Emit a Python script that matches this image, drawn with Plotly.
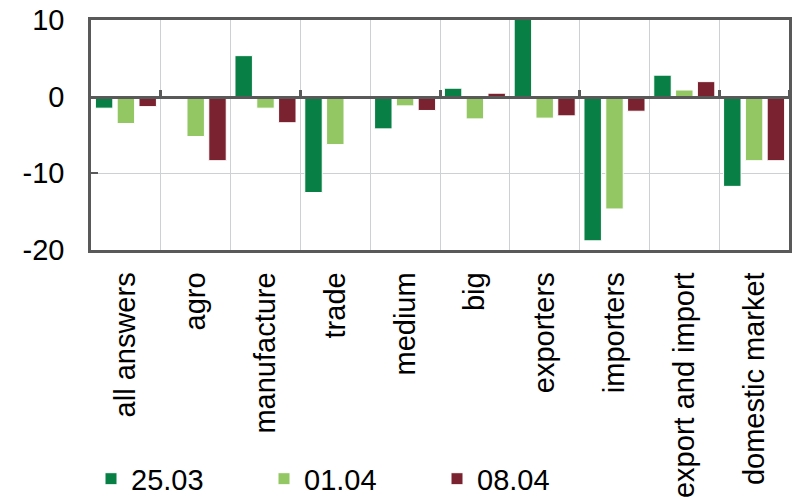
import plotly.graph_objects as go

categories = ["all answers", "agro", "manufacture", "trade", "medium", "big",
              "exporters", "importers", "export and import", "domestic market"]
s_2503 = [-1.5, 0.0, 5.35, -12.5, -4.2, 1.1, 10.5, -18.8, 2.8, -11.7]
s_0104 = [-3.5, -5.2, -1.5, -6.25, -1.2, -2.9, -2.8, -14.65, 0.87, -8.35]
s_0804 = [-1.3, -8.35, -3.4, 0.0, -1.8, 0.45, -2.5, -1.9, 1.96, -8.35]
series_names = ["25.03", "01.04", "08.04"]
colors = ["#077f45", "#92c763", "#7b2230"]
y_ticks = [-20, -10, 0, 10]
y_tick_text = ["-20", "-10", "0", "10"]

FONT = "Liberation Sans, Arial, sans-serif"
AX = "#595959"
GRID = "#cdd1d4"
FS = 29

fig = go.Figure()
for name, vals, col in zip(series_names, [s_2503, s_0104, s_0804], colors):
    fig.add_trace(go.Bar(x=categories, y=vals, name=name,
                         marker=dict(color=col, line=dict(color="white", width=1))))

# helper axis drawn along y=0 with tick marks at category boundaries
n = len(categories)
boundary_ticks = [i + 0.5 for i in range(0, n - 1, 2)] + [n - 0.5]
fig.add_trace(go.Scatter(x=[-0.5, n - 0.5], y=[0, 0], xaxis="x2", mode="lines",
                         line=dict(width=0, color="rgba(0,0,0,0)"),
                         showlegend=False, hoverinfo="skip"))

ymin, ymax = -20, 10
fig.update_layout(
    width=807, height=497,
    margin=dict(l=91, r=18, t=20, b=247, autoexpand=False),
    paper_bgcolor="white", plot_bgcolor="white",
    font=dict(family=FONT, size=FS, color="black"),
    barmode="group", bargap=0.063, bargroupgap=0.2,
    xaxis=dict(type="category", categoryarray=categories, tickson="boundaries",
               showgrid=True, gridcolor=GRID, gridwidth=1, automargin=False,
               showline=True, linecolor=AX, linewidth=2.5, mirror=True,
               ticks="", tickangle=-90, ticklabelstandoff=8,
               tickfont=dict(size=FS)),
    xaxis2=dict(overlaying="x", anchor="free", side="top",
                position=(0 - ymin) / (ymax - ymin),
                range=[-0.5, n - 0.5], showgrid=False, zeroline=False,
                showline=True, linecolor=AX, linewidth=2.5,
                ticks="outside", ticklen=6, tickwidth=2.5, tickcolor=AX,
                tickvals=boundary_ticks, showticklabels=False),
    yaxis=dict(range=[ymin, ymax], tickvals=y_ticks, ticktext=y_tick_text,
               showgrid=True, gridcolor=GRID, automargin=False,
               gridwidth=1, zeroline=False, showline=True, linecolor=AX,
               linewidth=2.5, mirror=True, ticks="inside", ticklen=7, tickwidth=2,
               tickcolor=AX, ticklabelstandoff=18, tickfont=dict(size=FS)),
    legend=dict(orientation="h", x=0.0, xanchor="left", y=-0.995, yanchor="middle",
                entrywidth=128, entrywidthmode="pixels",
                font=dict(size=FS), bgcolor="rgba(0,0,0,0)", tracegroupgap=0),
    showlegend=True,
)

fig.write_html("out.html")
